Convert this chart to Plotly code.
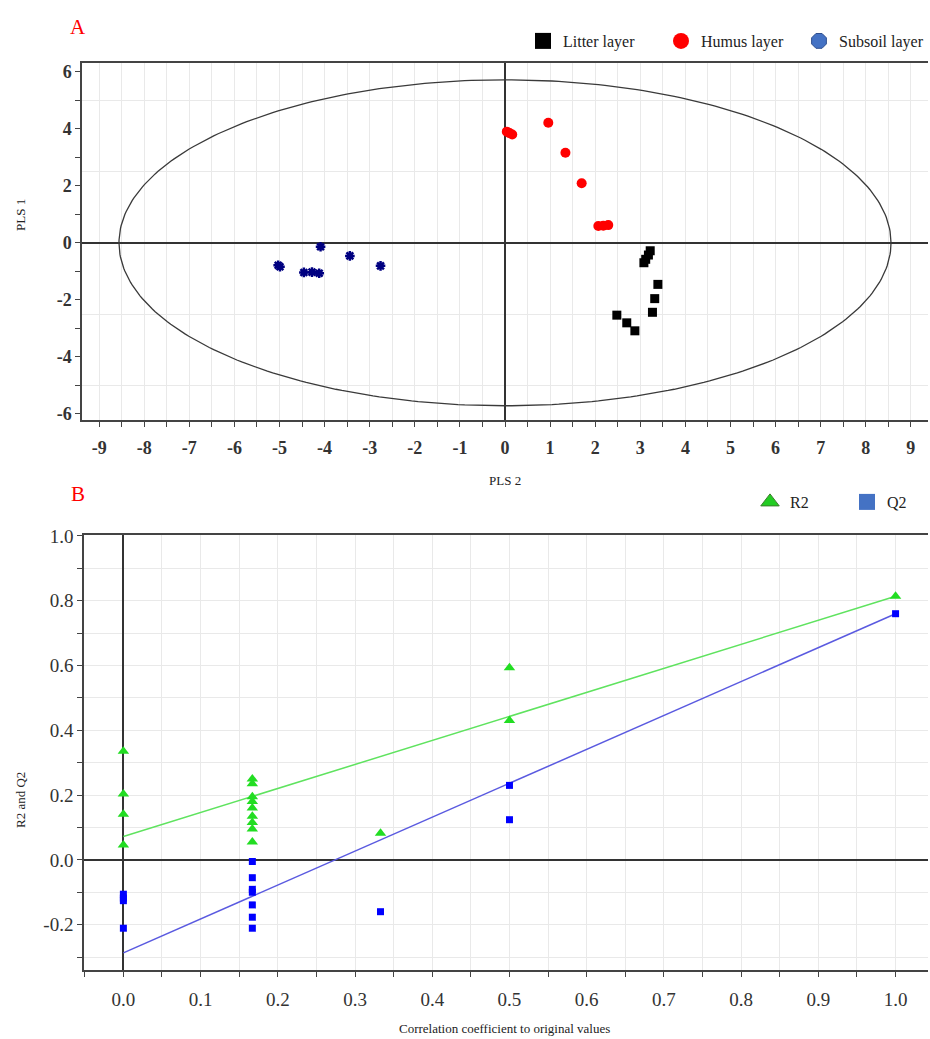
import numpy as np
import plotly.graph_objects as go

# ---------------- Panel A data (PLS score plot) ----------------
litter_x = [3.22, 3.18, 3.12, 3.08, 3.39, 3.32, 3.27, 2.48, 2.70, 2.88]
litter_y = [-0.28, -0.43, -0.58, -0.70, -1.46, -1.96, -2.44, -2.54, -2.81, -3.09]
humus_x = [0.04, 0.10, 0.16, 0.96, 1.34, 1.70, 2.07, 2.18, 2.29]
humus_y = [3.90, 3.85, 3.80, 4.21, 3.16, 2.09, 0.59, 0.60, 0.62]
subsoil_x = [-5.03, -4.99, -4.46, -4.28, -4.12, -4.09, -3.44, -2.76]
subsoil_y = [-0.79, -0.84, -1.04, -1.03, -1.07, -0.14, -0.46, -0.81]
ellipse_a = 8.56
ellipse_b = 5.72
a_xticks = list(range(-9, 10))
a_yticks = list(range(-6, 7))
a_ygrid = [-5, -2.5, 2.5, 5]

# ---------------- Panel B data (permutation test) ----------------
r2_x = [0, 0, 0, 0, 0.167, 0.167, 0.167, 0.167, 0.167, 0.167, 0.167, 0.167, 0.167, 0.333, 0.5, 0.5, 1.0]
r2_y = [0.335, 0.203, 0.141, 0.046, 0.250, 0.235, 0.195, 0.180, 0.160, 0.135, 0.115, 0.095, 0.055, 0.082, 0.593, 0.430, 0.814]
q2_x = [0, 0, 0, 0, 0.167, 0.167, 0.167, 0.167, 0.167, 0.167, 0.167, 0.333, 0.5, 0.5, 1.0]
q2_y = [-0.106, -0.118, -0.126, -0.211, -0.005, -0.055, -0.091, -0.100, -0.139, -0.177, -0.211, -0.160, 0.230, 0.124, 0.760]
r2_line_x = [0.0, 1.0]
r2_line_y = [0.072, 0.814]
q2_line_x = [0.0, 1.0]
q2_line_y = [-0.287, 0.760]
b_xticks = [0.0, 0.1, 0.2, 0.3, 0.4, 0.5, 0.6, 0.7, 0.8, 0.9, 1.0]
b_yticks = [-0.2, 0.0, 0.2, 0.4, 0.6, 0.8, 1.0]

W, H = 930, 1039
SERIF = "Liberation Serif"
GRID = "#e9e9e9"
AX = "#444444"


def px_x(p):
    return p / W


def px_y(p):
    return 1 - p / H


def lab(v, fmt="{:d}"):
    return fmt.format(v).replace("\u2212", "-")


fig = go.Figure()

# Ellipse (Hotelling T2)
t = np.linspace(0, 2 * np.pi, 361)
fig.add_trace(go.Scatter(x=ellipse_a * np.cos(t), y=ellipse_b * np.sin(t), mode="lines",
                         line=dict(color="#3a3a3a", width=1.3), showlegend=False,
                         hoverinfo="skip", xaxis="x", yaxis="y"))
fig.add_trace(go.Scatter(x=litter_x, y=litter_y, mode="markers",
                         marker=dict(symbol="square", size=9, color="black"),
                         showlegend=False, xaxis="x", yaxis="y"))
fig.add_trace(go.Scatter(x=humus_x, y=humus_y, mode="markers",
                         marker=dict(symbol="circle", size=10, color="#ff0000"),
                         showlegend=False, xaxis="x", yaxis="y"))
fig.add_trace(go.Scatter(x=subsoil_x, y=subsoil_y, mode="markers",
                         marker=dict(symbol="asterisk-open", size=8, color="#000080",
                                     line=dict(color="#000080", width=2.5)),
                         showlegend=False, xaxis="x", yaxis="y"))
# legend entries panel A
fig.add_trace(go.Scatter(x=[None], y=[None], mode="markers", name="Litter layer",
                         marker=dict(symbol="square", size=17, color="black"),
                         legend="legend", xaxis="x", yaxis="y"))
fig.add_trace(go.Scatter(x=[None], y=[None], mode="markers", name="Humus layer",
                         marker=dict(symbol="circle", size=17, color="#ff0000"),
                         legend="legend", xaxis="x", yaxis="y"))
fig.add_trace(go.Scatter(x=[None], y=[None], mode="markers", name="Subsoil layer",
                         marker=dict(symbol="octagon", size=18, color="#4472c4",
                                     line=dict(color="#2f4f8f", width=1)),
                         legend="legend", xaxis="x", yaxis="y"))

# Panel B
fig.add_trace(go.Scatter(x=r2_line_x, y=r2_line_y, mode="lines",
                         line=dict(color="#5fe35f", width=1.5), showlegend=False,
                         xaxis="x2", yaxis="y2"))
fig.add_trace(go.Scatter(x=q2_line_x, y=q2_line_y, mode="lines",
                         line=dict(color="#5a5ae0", width=1.5), showlegend=False,
                         xaxis="x2", yaxis="y2"))
fig.add_trace(go.Scatter(x=r2_x, y=r2_y, mode="markers",
                         marker=dict(symbol="triangle-up", size=10, color="#22dd22"),
                         showlegend=False, xaxis="x2", yaxis="y2"))
fig.add_trace(go.Scatter(x=q2_x, y=q2_y, mode="markers",
                         marker=dict(symbol="square", size=7, color="#0000ff"),
                         showlegend=False, xaxis="x2", yaxis="y2"))
fig.add_trace(go.Scatter(x=[None], y=[None], mode="markers", name="R2",
                         marker=dict(symbol="triangle-up", size=18, color="#22cc22",
                                     line=dict(color="#3a7d2a", width=1)),
                         legend="legend2", xaxis="x2", yaxis="y2"))
fig.add_trace(go.Scatter(x=[None], y=[None], mode="markers", name="Q2",
                         marker=dict(symbol="square", size=18, color="#4472c4"),
                         legend="legend2", xaxis="x2", yaxis="y2"))

tickfont_a = dict(family=SERIF, size=18, color="#333333", weight="bold")
tickfont_b = dict(family=SERIF, size=19, color="#333333")


def ann(text, x, y, size=13, color="#222222", angle=0):
    return dict(text=text, x=px_x(x), y=px_y(y), xref="paper", yref="paper",
                xanchor="center", yanchor="middle", showarrow=False, textangle=angle,
                font=dict(family=SERIF, size=size, color=color))


fig.update_layout(
    width=W, height=H,
    margin=dict(l=0, r=0, t=0, b=0, autoexpand=False),
    paper_bgcolor="white", plot_bgcolor="white",
    font=dict(family=SERIF, color="#222222"),
    xaxis=dict(domain=[px_x(82), px_x(928)], anchor="y", range=[-9.38, 9.38],
               automargin=False,
               tickmode="array", tickvals=a_xticks, ticktext=[lab(v) for v in a_xticks],
               ticks="outside", ticklen=5,
               tickcolor=AX, tickfont=tickfont_a, showgrid=True, gridcolor=GRID,
               minor=dict(dtick=0.5, ticks="outside", ticklen=5, tickcolor=AX,
                          showgrid=True, gridcolor=GRID),
               showline=True, linecolor=AX, linewidth=1.5, mirror=True,
               zeroline=True, zerolinecolor="#333333", zerolinewidth=1.5,
               ticklabelstandoff=6),
    yaxis=dict(domain=[px_y(420), px_y(63)], anchor="x", range=[-6.22, 6.31],
               automargin=False,
               tickmode="array", tickvals=a_yticks,
               ticktext=[lab(v) if v % 2 == 0 else "" for v in a_yticks],
               ticks="outside", ticklen=5, tickcolor=AX, tickfont=tickfont_a,
               showgrid=False,
               minor=dict(tickmode="array", tickvals=a_ygrid, ticks="", showgrid=True,
                          gridcolor=GRID),
               showline=True, linecolor=AX, linewidth=1.5, mirror=False,
               zeroline=True, zerolinecolor="#333333", zerolinewidth=1.5),
    xaxis2=dict(domain=[px_x(84), px_x(928)], anchor="y2", range=[-0.051, 1.042],
                automargin=False,
                tickmode="array", tickvals=b_xticks, ticktext=[lab(v, "{:.1f}") for v in b_xticks],
                ticks="outside", ticklen=5, tickcolor=AX, tickfont=tickfont_b,
                showgrid=True, gridcolor=GRID,
                minor=dict(dtick=0.05, ticks="outside", ticklen=5, tickcolor=AX,
                           showgrid=True, gridcolor=GRID),
                showline=True, linecolor=AX, linewidth=1.5, mirror=True,
                zeroline=True, zerolinecolor="#333333", zerolinewidth=1.5,
                ticklabelstandoff=6),
    yaxis2=dict(domain=[px_y(970), px_y(535)], anchor="x2", range=[-0.34, 1.003],
                automargin=False,
                tickmode="array", tickvals=b_yticks, ticktext=[lab(v, "{:.1f}") for v in b_yticks],
                ticks="outside", ticklen=5, tickcolor=AX, tickfont=tickfont_b,
                showgrid=True, gridcolor=GRID,
                minor=dict(dtick=0.1, ticks="outside", ticklen=5, tickcolor=AX,
                           showgrid=True, gridcolor=GRID),
                showline=True, linecolor=AX, linewidth=1.5, mirror=False,
                zeroline=True, zerolinecolor="#333333", zerolinewidth=1.5),
    legend=dict(orientation="h", x=px_x(523), y=px_y(24), xanchor="left", yanchor="top",
                font=dict(family=SERIF, size=16, color="#222222"),
                bgcolor="rgba(0,0,0,0)", entrywidth=93, itemsizing="trace"),
    legend2=dict(orientation="h", x=px_x(750), y=px_y(485), xanchor="left", yanchor="top",
                 font=dict(family=SERIF, size=16, color="#222222"),
                 bgcolor="rgba(0,0,0,0)", entrywidth=52, itemsizing="trace"),
    annotations=[
        ann("A", 78, 27, size=21, color="#ff0000"),
        ann("B", 78, 494, size=21, color="#ff0000"),
        ann("PLS 2", 505, 481),
        ann("PLS 1", 20, 215, angle=-90),
        ann("R2 and Q2", 20, 800, angle=-90),
        ann("Correlation coefficient to original values", 505, 1028),
    ],
)

fig.write_html("out.html")
